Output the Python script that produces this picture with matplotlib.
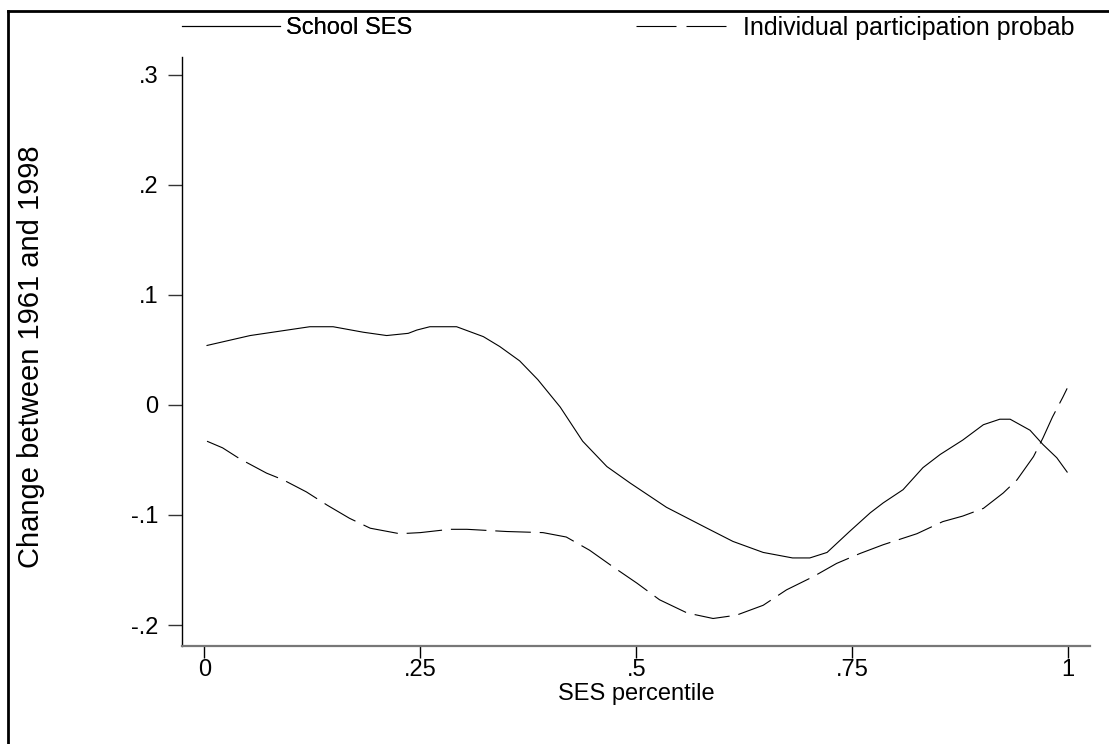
import matplotlib
matplotlib.use("Agg")
import matplotlib.pyplot as plt
from matplotlib.lines import Line2D

plt.rcParams['font.family'] = ['Liberation Sans', 'DejaVu Sans']

# SES percentile vs change
ses_x = [0.003, 0.053, 0.122, 0.149, 0.184, 0.211, 0.236, 0.246, 0.261, 0.292,
         0.323, 0.342, 0.365, 0.386, 0.412, 0.438, 0.466, 0.493, 0.535, 0.582,
         0.612, 0.647, 0.681, 0.701, 0.721, 0.747, 0.771, 0.786, 0.809, 0.832,
         0.852, 0.878, 0.902, 0.921, 0.933, 0.956, 0.971, 0.987, 0.999]
school_ses = [0.054, 0.063, 0.071, 0.071, 0.066, 0.063, 0.065, 0.068, 0.071, 0.071,
              0.062, 0.053, 0.040, 0.023, -0.002, -0.033, -0.056, -0.071, -0.093, -0.112,
              -0.124, -0.134, -0.139, -0.139, -0.134, -0.115, -0.098, -0.089, -0.077, -0.057,
              -0.045, -0.032, -0.018, -0.013, -0.013, -0.023, -0.036, -0.048, -0.061]

ind_x = [0.003, 0.021, 0.041, 0.072, 0.091, 0.118, 0.142, 0.168, 0.192, 0.226,
         0.250, 0.284, 0.304, 0.350, 0.392, 0.419, 0.446, 0.473, 0.501, 0.527,
         0.559, 0.589, 0.616, 0.647, 0.674, 0.705, 0.732, 0.759, 0.786, 0.825,
         0.855, 0.878, 0.902, 0.925, 0.941, 0.960, 0.971, 0.982, 0.994, 0.999]
ind_prob = [-0.033, -0.039, -0.049, -0.062, -0.068, -0.079, -0.091, -0.103, -0.112, -0.117,
            -0.116, -0.113, -0.113, -0.115, -0.116, -0.120, -0.132, -0.147, -0.162, -0.177,
            -0.189, -0.194, -0.191, -0.182, -0.168, -0.156, -0.144, -0.135, -0.127, -0.117,
            -0.106, -0.101, -0.094, -0.080, -0.068, -0.047, -0.030, -0.011, 0.007, 0.015]

xticks = [0, 0.25, 0.5, 0.75, 1]
xtick_labels = ['0', '.25', '.5', '.75', '1']
yticks = [-0.2, -0.1, 0, 0.1, 0.2, 0.3]
ytick_labels = ['-.2', '-.1', '0', '.1', '.2', '.3']

fs = 17

fig = plt.figure(figsize=(11.09, 7.44), dpi=100)
ax = fig.add_axes([0.1641, 0.1317, 0.8188, 0.7917])

l1, = ax.plot(ses_x, school_ses, color='black', lw=0.8)
l2, = ax.plot(ind_x, ind_prob, color='black', lw=0.8, dashes=(32, 8))

ax.set_xlim(-0.026, 1.0255)
ax.set_ylim(-0.219, 0.316)

ax.set_xticks(xticks)
ax.set_xticklabels(xtick_labels)
ax.set_yticks(yticks)
ax.set_yticklabels(ytick_labels)
ax.tick_params(axis='both', labelsize=fs, direction='out', width=1)
ax.tick_params(axis='y', length=10, pad=7, colors='#333333', labelcolor='black')
ax.tick_params(axis='x', length=8.5, pad=1)

for s in ['top', 'right']:
    ax.spines[s].set_visible(False)
ax.spines['left'].set_linewidth(1)
ax.spines['bottom'].set_color('#777777')
ax.spines['bottom'].set_linewidth(1.6)

ax.set_xlabel('SES percentile', fontsize=fs)
ax.xaxis.set_label_coords(0.5, -0.063)
ax.set_ylabel('Change between 1961 and 1998', fontsize=21)
ax.yaxis.set_label_coords(-0.151, 0.491)

# legend entries along the top
leg1 = fig.legend([l1], ['School SES'], loc='center left',
                  bbox_to_anchor=(182 / 1109, 1 - 28 / 744), frameon=False,
                  fontsize=fs, handlelength=4.15, handletextpad=0.25,
                  borderpad=0, borderaxespad=0)
fig.add_artist(leg1)
h2 = Line2D([], [], color='black', lw=0.8, dashes=(36, 9))
fig.legend([h2], ['Individual participation probab'], loc='center left',
           bbox_to_anchor=(636 / 1109, 1 - 28 / 744), frameon=False,
           fontsize=18, handlelength=3.65, handletextpad=0.64,
           borderpad=0, borderaxespad=0)

# outer frame (top and left edges)
fig.add_artist(Line2D([8 / 1109, 1], [1 - 11 / 744, 1 - 11 / 744],
                      transform=fig.transFigure, color='black', lw=2))
fig.add_artist(Line2D([8 / 1109, 8 / 1109], [0, 1 - 11 / 744],
                      transform=fig.transFigure, color='black', lw=2))

fig.savefig('out.png', dpi=100)
